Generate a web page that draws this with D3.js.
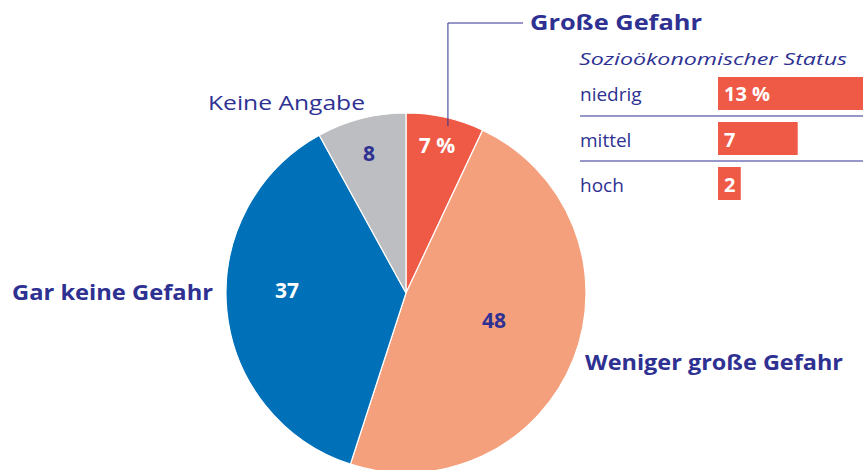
<!DOCTYPE html>
<html><head><meta charset="utf-8">
<script src="https://cdn.jsdelivr.net/npm/d3@7"></script>
<style>body{margin:0;background:#fff}svg{display:block}text{font-family:"Open Sans",sans-serif}</style>
</head><body>
<svg id="c" width="863" height="470"></svg>
<script>
const categories = ["Große Gefahr", "Weniger große Gefahr", "Gar keine Gefahr", "Keine Angabe"];
const values = [7, 48, 37, 8];
const valueLabels = ["7 %", "48", "37", "8"];
const statusCategories = ["niedrig", "mittel", "hoch"];
const statusValues = [13, 7, 2];
const statusLabels = ["13 %", "7", "2"];

const colors = ["#ef5a46", "#f5a07c", "#0070b8", "#bdbec2"];
const valueColors = ["#fff", "#2e3192", "#fff", "#2e3192"];
const navy = "#2e3192";

const svg = d3.select("#c");
const cx = 406, cy = 293, R = 180;
const g = svg.append("g").attr("transform", `translate(${cx},${cy})`);
const pie = d3.pie().sort(null).value(d => d);
const arcs = pie(values);
const arc = d3.arc().innerRadius(0).outerRadius(R);
g.selectAll("path").data(arcs).join("path")
  .attr("d", arc).attr("fill", (d, i) => colors[i])
  .attr("stroke", "#fff").attr("stroke-width", 1.2);

const labelPos = [[31, -148], [88, 27], [-119, -3], [-37, -140]];
g.selectAll("text.v").data(arcs).join("text").attr("class", "v")
  .attr("x", (d, i) => labelPos[i][0]).attr("y", (d, i) => labelPos[i][1] + 8)
  .attr("text-anchor", "middle").attr("font-weight", 700).attr("font-size", 21)
  .attr("fill", (d, i) => valueColors[i]).text((d, i) => valueLabels[i]);

// category labels
const catPos = [
  {x: 530, y: 30, w: 700, s: 22, len: 172},
  {x: 585, y: 370, w: 700, s: 22, len: 258},
  {x: 12, y: 300, w: 700, s: 22, len: 201},
  {x: 208, y: 110, w: 400, s: 20, len: 157}
];
svg.selectAll("text.cat").data(categories).join("text").attr("class", "cat")
  .attr("x", (d, i) => catPos[i].x).attr("y", (d, i) => catPos[i].y)
  .attr("font-weight", (d, i) => catPos[i].w).attr("font-size", (d, i) => catPos[i].s)
  .attr("fill", navy).attr("textLength", (d, i) => catPos[i].len).attr("lengthAdjust", "spacingAndGlyphs")
  .text(d => d);

// leader line for Große Gefahr
const a0 = arcs[0].endAngle * 0.56;
const lx = cx + Math.sin(a0) * (R - 8), ly = cy - Math.cos(a0) * (R - 8);
svg.append("path").attr("d", `M${lx},${ly}V23H523`).attr("fill", "none").attr("stroke", navy).attr("stroke-width", 1);

// inset
svg.append("text").attr("x", 579).attr("y", 65).attr("font-style", "italic").attr("font-size", 17)
  .attr("fill", navy).attr("textLength", 268).attr("lengthAdjust", "spacingAndGlyphs").text("Sozioökonomischer Status");
const x = d3.scaleLinear().domain([0, 13]).range([718, 866]);
const y = d3.scaleBand().domain(statusCategories).range([77, 200]).paddingInner(0.267).paddingOuter(0);
const rows = svg.selectAll("g.row").data(statusCategories).join("g").attr("class", "row");
rows.append("rect").attr("x", x(0)).attr("y", d => y(d)).attr("height", y.bandwidth())
  .attr("width", (d, i) => x(statusValues[i]) - x(0)).attr("fill", colors[0]);
rows.append("text").attr("x", x(0) + 6).attr("y", d => y(d) + y.bandwidth() / 2 + 8)
  .attr("font-weight", 700).attr("font-size", 20).attr("fill", "#fff").text((d, i) => statusLabels[i]);
rows.append("text").attr("x", 580).attr("y", d => y(d) + y.bandwidth() / 2 + 8)
  .attr("font-size", 19).attr("fill", navy).text(d => d);
svg.selectAll("line.sep").data(statusCategories.slice(1)).join("line").attr("class", "sep")
  .attr("x1", 580).attr("x2", 863)
  .attr("y1", d => y(d) - (y.step() - y.bandwidth()) / 2).attr("y2", d => y(d) - (y.step() - y.bandwidth()) / 2)
  .attr("stroke", navy).attr("stroke-width", 1);
</script>
</body></html>
